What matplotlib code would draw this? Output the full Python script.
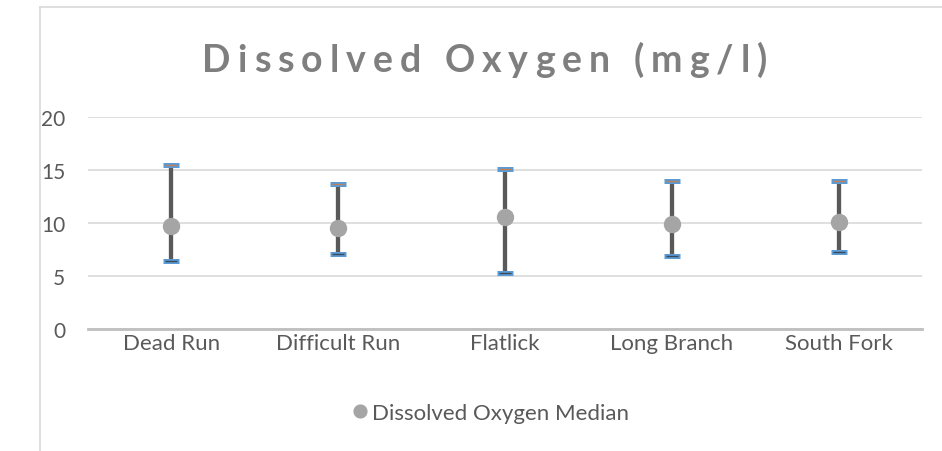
import numpy as np
import matplotlib.pyplot as plt
from matplotlib.lines import Line2D

plt.rcParams['font.family'] = ['Lato', 'DejaVu Sans']

sites = ['Dead Run', 'Difficult Run', 'Flatlick', 'Long Branch', 'South Fork']
median = [9.7, 9.5, 10.6, 9.9, 10.1]
upper = [15.5, 13.7, 15.1, 14.0, 14.0]
lower = [6.4, 7.1, 5.3, 6.9, 7.3]
title = 'Dissolved Oxygen (mg/l)'

x = np.arange(len(sites))
med = np.array(median)
err = [med - np.array(lower), np.array(upper) - med]

W, H = 942, 452
fig = plt.figure(figsize=(W/100, H/100), dpi=100)
ax = fig.add_axes([88/W, 1-330/H, (922-88)/W, (330-118)/H])

# chart frame
fig.add_artist(Line2D([40/W, 40/W], [0, 1-8/H], color='#d9d9d9', lw=1.2))
fig.add_artist(Line2D([40/W, 1], [1-8/H, 1-8/H], color='#d9d9d9', lw=1.2))

eb = ax.errorbar(x, med, yerr=err, fmt='none', ecolor='#595959', elinewidth=3.1,
                 capsize=6, capthick=3.6, zorder=3)
for cl in eb[1]:
    cl.set_markeredgecolor('#5b9bd5')
# thin inner line on the caps
ax.plot(x, upper, ls='none', marker='_', ms=8, mew=1, color='#c0805a', zorder=4)
ax.plot(x, lower, ls='none', marker='_', ms=8, mew=1, color='#3a4a5a', zorder=4)
ax.plot(x, med, ls='none', marker='o', ms=11.5, color='#a5a5a5', zorder=5,
        label='Dissolved Oxygen Median')

ax.set_xlim(-0.5, len(sites) - 0.5)
ax.set_ylim(0, 20)
ax.set_yticks([0, 5, 10, 15, 20])
ax.set_xticks(x)
ax.set_xticklabels(sites)
ax.grid(axis='y', color='#d9d9d9', lw=1.2)
ax.set_axisbelow(True)
for s in ['top', 'right', 'left']:
    ax.spines[s].set_visible(False)
ax.spines['bottom'].set_color('#bfbfbf')
ax.spines['bottom'].set_linewidth(2)
ax.tick_params(axis='both', length=0, colors='#595959')
ax.tick_params(axis='y', pad=16.5, labelsize=15)
ax.tick_params(axis='x', pad=3, labelsize=16)

# letter-spaced title
tprops = dict(fontsize=27, fontweight='bold', color='#7f7f7f', va='baseline')
r = fig.canvas.get_renderer()
def tw(s):
    t = fig.text(0, 0, s, **tprops)
    w = t.get_window_extent(r).width
    t.remove()
    return w
natural = tw(title)
gap = (565 - natural) / (len(title) - 1)
left = 484.5 - 565 / 2
for i, ch in enumerate(title):
    if ch == ' ':
        continue
    xi = left + tw(title[:i+1]) - tw(ch) + i * gap
    fig.text(xi / W, 1 - 72/H, ch, ha='left', **tprops)

fig.legend(loc='center', bbox_to_anchor=(492/W, 1-414/H), frameon=False,
           fontsize=16, labelcolor='#595959', handlelength=0.5, handletextpad=0.3,
           markerscale=0.8)

plt.savefig('out.png', dpi=100)
